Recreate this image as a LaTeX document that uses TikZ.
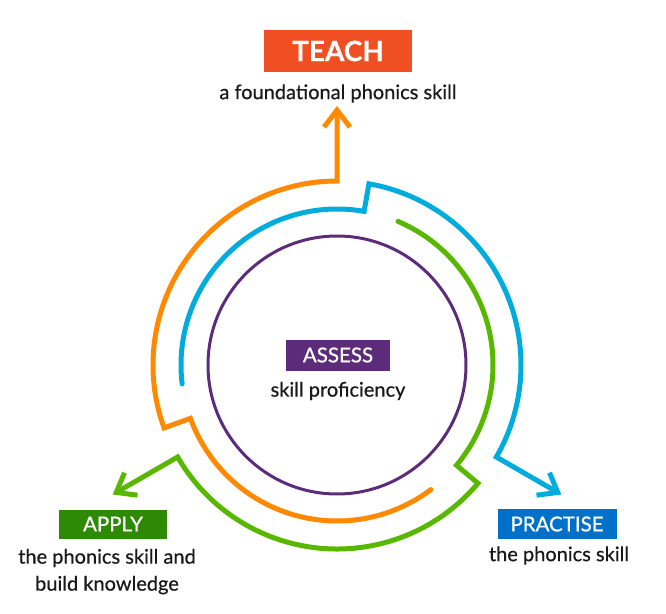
\documentclass[tikz,border=0pt]{standalone}
\usepackage{fontspec}
\setmainfont{Lato}[FakeBold=0.6]
\definecolor{TeachRed}{RGB}{240, 78, 35}
\definecolor{AssessPurple}{RGB}{92, 44, 122}
\definecolor{ApplyGreen}{RGB}{46, 137, 4}
\definecolor{PractiseBlue}{RGB}{0, 112, 201}
\definecolor{ArcOrange}{RGB}{255, 137, 0}
\definecolor{ArcBlue}{RGB}{0, 172, 220}
\definecolor{ArcGreen}{RGB}{88, 184, 0}
\usetikzlibrary{arrows.meta, positioning}

\begin{document}
\begin{tikzpicture}[x=1pt, y=1pt]
        \tikzstyle{tag} = [rectangle, text=white, inner sep=0pt,
            font=\fontsize{20.5}{24}\selectfont]
        \tikzstyle{desc} = [align=center, text=black!90, inner sep=2pt,
            font=\fontsize{20}{27}\selectfont]
        \tikzstyle{loop} = [draw, line width=5pt, line cap=round, line join=miter,
            -{Straight Barb[length=17pt, width=26pt]}]

        \useasboundingbox (-337,-248) rectangle (329,365);

        % the four stages
        \node [tag, fill=TeachRed, minimum width=148pt, minimum height=42pt,
            font=\bfseries\fontsize{28}{32}\selectfont] (teach) at (1,314) {TEACH};
        \node [desc, below=10pt of teach] (teachtext) {a foundational phonics skill};

        \node [tag, fill=AssessPurple, minimum width=104pt, minimum height=31pt] (assess) at (1,10) {ASSESS};
        \node [desc, below=9pt of assess] (assesstext) {skill proficiency};

        \node [tag, fill=ApplyGreen, minimum width=108pt, minimum height=29pt] (apply) at (-224,-159) {APPLY};
        \node [desc, below=8pt of apply, xshift=-6pt] (applytext) {the phonics skill and\\build knowledge};

        \node [tag, fill=PractiseBlue, minimum width=119pt, minimum height=30pt] (practise) at (220,-159) {PRACTISE};
        \node [desc, below=5pt of practise, xshift=2pt] (practisetext) {the phonics skill};

        % inner circle and the three arms
        \draw [AssessPurple, line width=3pt] (0,0) circle [radius=129];

        \foreach \a/\c/\n in {90/ArcOrange/teach, -30/ArcBlue/practise, 210/ArcGreen/apply} {
            \coordinate (\n tip) at (\a:259);
            \path [loop, \c] ({\a+217}:156) arc [start angle=\a+217, end angle=\a+110, radius=156]
                -- ({\a+110}:184) arc [start angle=\a+110, end angle=\a, radius=184] -- (\n tip);
        }
    \end{tikzpicture}
\end{document}
